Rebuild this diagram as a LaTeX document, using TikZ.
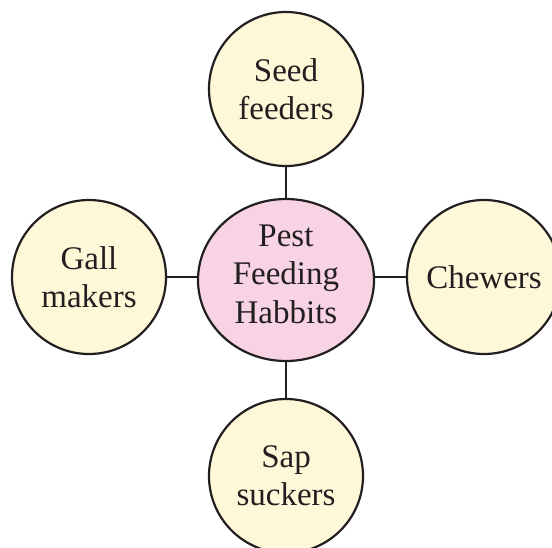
\documentclass[tikz,border=0pt]{standalone}
\usepackage{fontspec}
\setmainfont{Liberation Serif}
\usetikzlibrary{shapes.geometric}
\definecolor{cream}{HTML}{FEF8D8}
\definecolor{pinkfill}{HTML}{F8D3E3}
\definecolor{inkline}{HTML}{231F20}
\tikzset{
  leaf/.style={circle, draw=inkline, line width=2.2pt, fill=cream, minimum size=154pt, inner sep=0pt, align=center, font=\fontsize{33}{38}\selectfont, text=inkline},
  hub/.style={ellipse, draw=inkline, line width=2.2pt, fill=pinkfill, minimum width=176pt, minimum height=162pt, inner sep=0pt},
  hubtext/.style={align=center, font=\fontsize{33}{38.5}\selectfont, text=inkline, inner sep=0pt},
  link/.style={draw=inkline, line width=2.2pt}
}
\begin{document}
\begin{tikzpicture}[x=1pt,y=-1pt]
\useasboundingbox (0,0) rectangle (552,547);
\clip (0,0) rectangle (552,547);
\node[hub] (c) at (286,280) {};
\node[hubtext] (ct) at (286,274) {Pest\\Feeding\\Habbits};
\node[leaf] (t) at (286,89) {Seed\\feeders};
\node[leaf] (l) at (89,277) {Gall\\makers};
\node[leaf] (r) at (484,277) {Chewers};
\node[leaf] (b) at (286,476) {Sap\\suckers};
\draw[link] (c) -- (t);
\draw[link] (c.west |- l.east) -- (l.east);
\draw[link] (c.east |- r.west) -- (r.west);
\draw[link] (c) -- (b);
\end{tikzpicture}
\end{document}
